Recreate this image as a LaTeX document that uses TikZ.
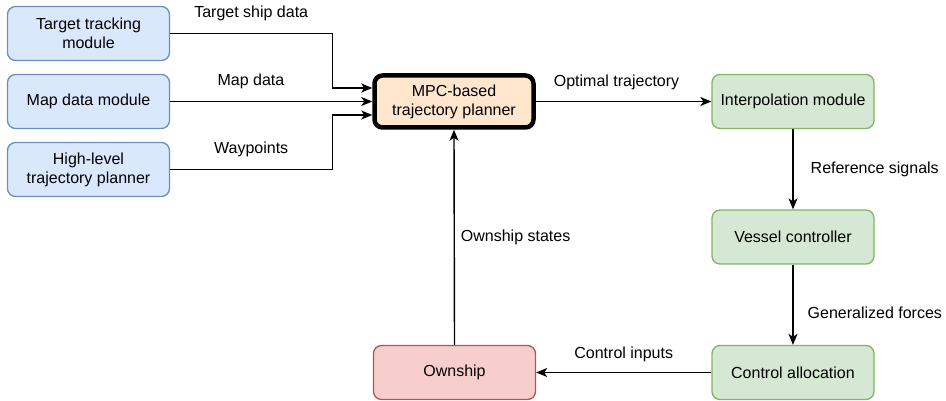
\documentclass[tikz,border=0pt]{standalone}
\usepackage{fontspec}
\setmainfont{Liberation Sans}
\usetikzlibrary{arrows.meta}

\definecolor{blueFill}{HTML}{DAE8FC}
\definecolor{blueLine}{HTML}{6C8EBF}
\definecolor{greenFill}{HTML}{D5E8D4}
\definecolor{greenLine}{HTML}{82B366}
\definecolor{redFill}{HTML}{F8CECC}
\definecolor{redLine}{HTML}{B85450}
\definecolor{orangeFill}{HTML}{FFE6CC}

\tikzset{
    block/.style={rounded corners=8pt, minimum width=162pt, minimum height=54pt,
        inner sep=0pt, align=center, line width=1.3pt,
        font=\fontsize{16}{19}\selectfont},
    inblock/.style={block, draw=blueLine, fill=blueFill},
    ctrlblock/.style={block, draw=greenLine, fill=greenFill},
    shipblock/.style={block, draw=redLine, fill=redFill},
    planblock/.style={block, draw=black, fill=orangeFill, line width=4.5pt,
        minimum width=159pt, minimum height=52pt},
    arr/.style={-{Stealth[length=11pt,width=9pt,inset=3pt]}, line width=1.4pt},
    lbl/.style={inner sep=0pt, font=\fontsize{16}{19}\selectfont}
}

\begin{document}
\begin{tikzpicture}[x=1pt,y=-1pt]
    \useasboundingbox (0,0) rectangle (946,401);

    % input modules
    \node[inblock] (track) at (88.5,33.5) {Target tracking\\module};
    \node[inblock] (map) at (88.5,101.5) {Map data module};
    \node[inblock] (highlevel) at (88.5,169.5) {High-level\\trajectory planner};

    \node[planblock] (mpc) at (454,101.5) {MPC-based\\trajectory planner};

    % control chain
    \node[ctrlblock] (interp) at (793,101.5) {Interpolation module};
    \node[ctrlblock] (vessel) at (793,237) {Vessel controller};
    \node[ctrlblock] (alloc) at (793,372.5) {Control allocation};
    \node[shipblock] (ship) at (454.5,372.5) {Ownship};

    \draw[arr] (track.east) -| ([xshift=-40pt,yshift=13.5pt]mpc.west)
        node[lbl, pos=0.25, above=16pt, anchor=base] {Target ship data}
        -- ([yshift=13.5pt]mpc.west);
    \draw[arr] (map.east) -- (mpc.west)
        node[lbl, pos=0.4, above=16pt, anchor=base] {Map data};
    \draw[arr] (highlevel.east) -| ([xshift=-40pt,yshift=-13.5pt]mpc.west)
        node[lbl, pos=0.25, above=15.5pt, anchor=base] {Waypoints}
        -- ([yshift=-13.5pt]mpc.west);

    \draw[arr] (mpc.east) -- (interp.west)
        node[lbl, pos=0.46, above=14.5pt, anchor=base] {Optimal trajectory};
    \draw[arr] (interp.south) -- (vessel.north)
        node[lbl, midway, right=17pt] {Reference signals};
    \draw[arr] (vessel.south) -- (alloc.north)
        node[lbl, pos=0.6, right=14pt] {Generalized forces};
    \draw[arr] (alloc.west) -- (ship.east)
        node[lbl, midway, above=14pt, anchor=base] {Control inputs};
    \draw[arr] (ship.north) -- (mpc.south)
        node[lbl, midway, right=6pt] {Ownship states};
\end{tikzpicture}
\end{document}
